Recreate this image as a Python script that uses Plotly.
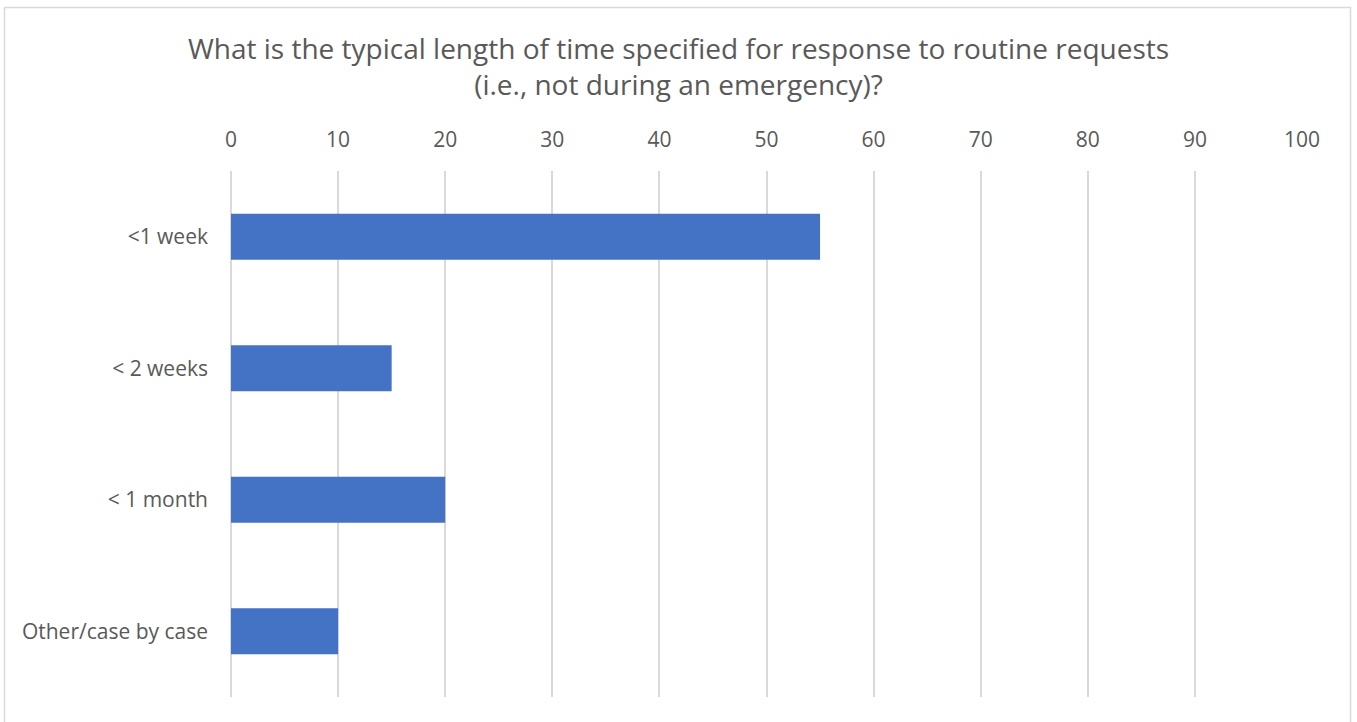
import plotly.graph_objects as go

# Survey responses: typical response time for routine requests
categories = ["<1 week", "< 2 weeks", "< 1 month", "Other/case by case"]
values = [55, 15, 20, 10]
tick_values = [0, 10, 20, 30, 40, 50, 60, 70, 80, 90, 100]

W, H = 1357, 722
M_L, M_R, M_T, M_B = 231, 55, 171, 25
plot_w = W - M_L - M_R
plot_h = H - M_T - M_B

def px_to_paper_x(px):
    return (px - M_L) / plot_w

def px_to_paper_y(py):
    return (H - M_B - py) / plot_h

text_color = "#595959"
grid_color = "#d9d9d9"
font_family = "Open Sans, Noto Sans, sans-serif"

fig = go.Figure(
    go.Bar(
        x=values,
        y=categories,
        orientation="h",
        marker=dict(color="#4472c4", line=dict(width=0)),
        hoverinfo="x+y",
    )
)

fig.update_layout(
    width=W,
    height=H,
    margin=dict(l=M_L, r=M_R, t=M_T, b=M_B, pad=0),
    paper_bgcolor="white",
    plot_bgcolor="white",
    bargap=0.65,
    showlegend=False,
    font=dict(family=font_family, color=text_color),
    title=dict(
        text="What is the typical length of time specified for response to routine requests<br>(i.e., not during an emergency)?",
        x=0.5,
        xanchor="center",
        y=1 - 59 / H,
        yanchor="middle",
        font=dict(size=28, color=text_color, family=font_family),
    ),
    xaxis=dict(
        side="top",
        range=[0, 100],
        tickvals=tick_values,
        ticktext=[str(v) for v in tick_values],
        showgrid=True,
        gridcolor=grid_color,
        gridwidth=1.5,
        zeroline=True,
        zerolinecolor=grid_color,
        zerolinewidth=1.5,
        showline=False,
        ticks="",
        ticklabelstandoff=19,
        tickfont=dict(size=21, color=text_color),
    ),
    yaxis=dict(
        autorange="reversed",
        showgrid=False,
        zeroline=False,
        showline=False,
        ticks="",
        ticklabelstandoff=22,
        tickfont=dict(size=21, color=text_color),
    ),
    shapes=[
        dict(
            type="rect",
            xref="paper",
            yref="paper",
            x0=px_to_paper_x(4.5),
            x1=px_to_paper_x(1350.5),
            y0=px_to_paper_y(740),
            y1=px_to_paper_y(7.5),
            line=dict(color=grid_color, width=1.5),
            fillcolor="rgba(0,0,0,0)",
            layer="below",
        )
    ],
)

fig.write_html("out.html")
